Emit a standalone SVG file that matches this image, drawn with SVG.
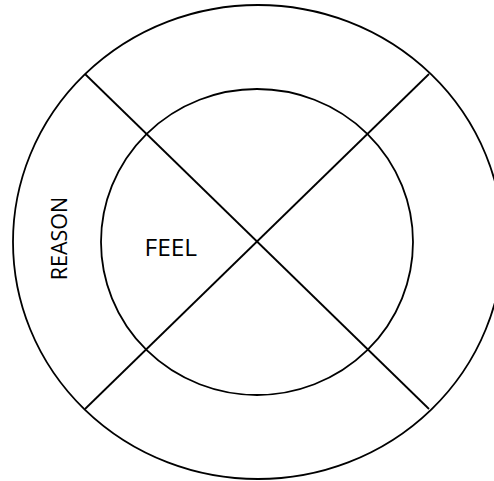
<svg xmlns="http://www.w3.org/2000/svg" width="494" height="481" viewBox="0 0 494 481">
<style>
.ring{fill:none;stroke:#000;stroke-width:1.8}
.ln{stroke:#000;stroke-width:1.8}
.lbl{font-family:"Open Sans","Liberation Sans",sans-serif;fill:#000}
</style>
<rect width="494" height="481" fill="#fff"/>
<g id="outer"><ellipse class="ring" cx="258" cy="242" rx="245" ry="237"/></g>
<g id="inner"><ellipse class="ring" cx="257" cy="242" rx="156" ry="153"/></g>
<g id="connectors">
<line class="ln" x1="85" y1="74" x2="429" y2="409"/>
<line class="ln" x1="429" y1="74" x2="85" y2="409"/>
</g>
<g id="reason"><text class="lbl" font-size="21.5" text-anchor="middle" transform="translate(67,238.5) rotate(-90)">REASON</text></g>
<g id="feel"><text class="lbl" font-size="24.5" x="144.5" y="255.5">FEEL</text></g>
</svg>
